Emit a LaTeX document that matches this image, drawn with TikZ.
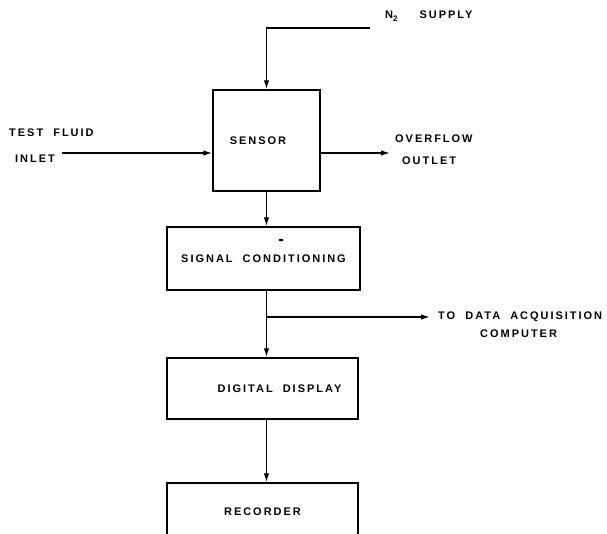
\documentclass[tikz,border=0pt]{standalone}
\usepackage{fontspec}
\setmainfont{Liberation Sans}
\usetikzlibrary{arrows.meta, positioning}

\begin{document}
\begin{tikzpicture}[x=1pt, y=-1pt,
  blockbox/.style={draw, line width=1.4pt, minimum width=191pt, minimum height=62pt, inner sep=0pt, font=\fontsize{11}{12}\selectfont\bfseries\addfontfeature{LetterSpace=18}},
  flow/.style={line width=1.4pt, -{Latex[length=9pt, width=5.5pt]}},
  lbl/.style={anchor=west, inner sep=0pt, font=\fontsize{11}{12}\selectfont\bfseries\addfontfeature{LetterSpace=18}}]
  \useasboundingbox (0,0) rectangle (607,533);
  \clip (0,0) rectangle (607,533);

  \node[blockbox, minimum width=107pt, minimum height=101pt] (sensor) at (266.5,140.5) {\hspace*{-17pt}SENSOR};
  \node[blockbox, minimum width=193pt, minimum height=63pt] (signal) at (263.5,258.5) {SIGNAL\ \ CONDITIONING};
  \node[blockbox, minimum height=61pt] (display) at (262.5,388.5) {\hspace*{34pt}DIGITAL\ \ DISPLAY};
  \node[blockbox, minimum height=58pt] (recorder) at (262.5,512) {RECORDER};
  \fill (281,240) ellipse (2.5pt and 1.3pt);

  \coordinate (n2) at (370,28);
  \coordinate (inlet) at (62,153);
  \coordinate (outlet) at (390,153);
  \coordinate (tap) at (sensor.south |- 0,317);
  \coordinate (daq) at (430,317);

  \node[lbl] (n2txt) at (385,16) {N\raisebox{-3pt}{\fontsize{8}{9}\selectfont 2}\hspace{22pt}SUPPLY};
  \node[lbl] (testtxt) at (9,133) {TEST\ \ FLUID};
  \node[lbl] (inlettxt) at (15,159) {INLET};
  \node[lbl] (overtxt) at (395,139) {OVERFLOW};
  \node[lbl] (outtxt) at (402,161) {OUTLET};
  \node[lbl] (daqtxt) at (438,317) {TO\ \ DATA\ \ ACQUISITION};
  \node[lbl] (comptxt) at (480,334) {COMPUTER};

  \draw[flow] (n2) -| (sensor);
  \draw[flow] (inlet) -- (inlet -| sensor.west);
  \draw[flow] (sensor.east |- outlet) -- (outlet);
  \draw[flow] (sensor.south) -- (sensor.south |- signal.north);
  \draw[flow] (sensor.south |- signal.south) -- (sensor.south |- display.north);
  \draw[flow] (tap) -- (daq);
  \draw[flow] (sensor.south |- display.south) -- (sensor.south |- recorder.north);
\end{tikzpicture}
\end{document}
